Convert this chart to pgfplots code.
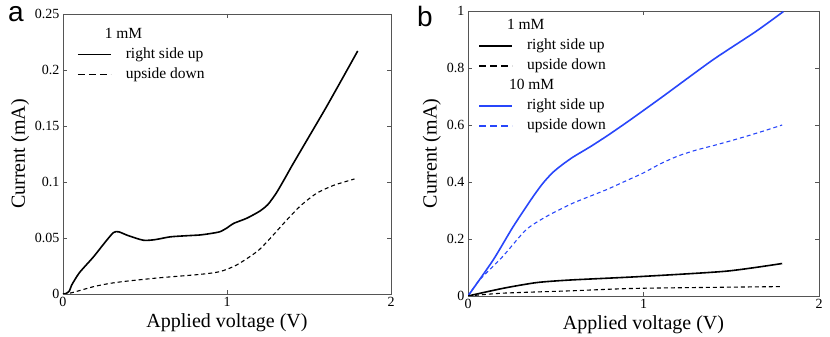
\documentclass[border=0pt]{standalone}
\usepackage{pgfplots}
\pgfplotsset{compat=1.18}
\usepackage{fontspec}
\setmainfont{Liberation Serif}
\newfontfamily\sansfont{Liberation Sans}
\definecolor{myblue}{RGB}{40,70,250}
\definecolor{axgray}{RGB}{85,85,85}

\pgfplotsset{
  panel/.style={
    scale only axis,
    axis line style={axgray, line width=0.9pt},
    tick style={axgray, line width=0.8pt},
    tick align=inside,
    major tick length=4pt,
    xmin=0, xmax=2, ymin=0,
    xtick={0,1,2},
    xticklabels={0,1,2},
    ticklabel style={font=\rmfamily\fontsize{14}{14}\selectfont},
    /pgf/number format/assume math mode=true,
    scaled y ticks=false,
    xlabel={Applied voltage (V)},
    ylabel={Current (mA)},
    label style={font=\fontsize{20}{20}\selectfont},
    xlabel style={at={(axis description cs:0.5,0)}, anchor=center, yshift=-29pt},
    legend style={draw=none, fill=none, anchor=north west,
      font=\fontsize{15.5}{15.5}\selectfont, row sep=0pt, column sep=12pt,
      nodes={text height=11.5pt, text depth=4.5pt, inner sep=2pt}},
    legend cell align=left,
    legend image code/.code={\draw[#1] (0pt,0pt) -- (33pt,0pt);},
  },
  solidk/.style={black, line width=1.6pt},
  dashk/.style={black, line width=1.1pt, dash pattern=on 4pt off 3pt},
  legdash/.style={line width=1.3pt, dash pattern=on 7pt off 4pt},
}

\begin{document}
\begin{tikzpicture}
\useasboundingbox (0pt,0pt) rectangle (830pt,337pt);

% panel a
\begin{axis}[panel,
  at={(63pt,43pt)}, anchor=south west,
  width=328pt, height=280pt,
  ymax=0.25,
  ytick={0,0.05,0.1,0.15,0.2,0.25},
  yticklabels={0,0.05,0.1,0.15,0.2,0.25},
  ylabel style={at={(axis description cs:-0.131,0.5)}, anchor=center},
  legend style={at={(axis description cs:0.033,0.97)}},
]
\addlegendimage{empty legend}
\addlegendentry{\hspace*{-21pt}1 mM}
\addlegendimage{black, line width=1.8pt}
\addlegendentry{right side up}
\addlegendimage{black, legdash}
\addlegendentry{upside down}

\addplot[solidk, smooth, tension=0.4, forget plot] coordinates {
 (0,0) (0.02,0.0005) (0.04,0.003) (0.053,0.008) (0.1,0.019) (0.185,0.033)
 (0.25,0.045) (0.307,0.0548) (0.34,0.0555) (0.4,0.052) (0.49,0.048)
 (0.56,0.0485) (0.652,0.051) (0.75,0.052) (0.835,0.0527) (0.9,0.054)
 (0.957,0.0556) (1.0,0.059) (1.04,0.063) (1.12,0.0676) (1.2,0.074)
 (1.25,0.080) (1.3,0.090) (1.35,0.1025) (1.4,0.1155) (1.5,0.1405)
 (1.6,0.1655) (1.7,0.1915) (1.797,0.217)
};
\addplot[dashk, smooth, tension=0.4, forget plot] coordinates {
 (0,0) (0.05,0.001) (0.185,0.0065) (0.287,0.0095) (0.39,0.0115) (0.59,0.0145)
 (0.835,0.0175) (0.957,0.020) (1.06,0.026) (1.2,0.040) (1.364,0.066)
 (1.45,0.079) (1.547,0.090) (1.65,0.097) (1.777,0.1027)
};
\end{axis}

% panel b
\begin{axis}[panel,
  at={(468pt,41pt)}, anchor=south west,
  width=351pt, height=285pt,
  ymax=1,
  ytick={0,0.2,0.4,0.6,0.8,1},
  yticklabels={0,0.2,0.4,0.6,0.8,1},
  ylabel style={at={(axis description cs:-0.103,0.5)}, anchor=center},
  legend style={at={(axis description cs:0.02,0.99)}},
]
\addlegendimage{empty legend}
\addlegendentry{\hspace*{-20pt}1 mM}
\addlegendimage{black, line width=1.8pt}
\addlegendentry{right side up}
\addlegendimage{black, legdash}
\addlegendentry{upside down}
\addlegendimage{empty legend}
\addlegendentry{\hspace*{-18pt}10 mM}
\addlegendimage{myblue, line width=1.5pt}
\addlegendentry{right side up}
\addlegendimage{myblue, legdash}
\addlegendentry{upside down}

\addplot[myblue, line width=1.6pt, smooth, tension=0.4, forget plot] coordinates {
 (0,0) (0.143,0.126) (0.257,0.243) (0.37,0.348) (0.43,0.398) (0.484,0.434)
 (0.54,0.462) (0.6,0.488) (0.7,0.525) (0.8,0.565) (0.92,0.616) (1.11,0.70)
 (1.394,0.828) (1.64,0.928) (1.797,0.998)
};
\addplot[myblue, line width=1.1pt, dash pattern=on 4pt off 3pt, smooth, tension=0.4, forget plot] coordinates {
 (0,0) (0.065,0.056) (0.197,0.138) (0.33,0.232) (0.444,0.278) (0.595,0.325)
 (0.785,0.372) (0.9,0.404) (1.0,0.432) (1.1,0.465) (1.2,0.492) (1.3,0.512)
 (1.4,0.528) (1.5,0.545) (1.6,0.563) (1.7,0.582) (1.79,0.60)
};
\addplot[solidk, smooth, tension=0.4, forget plot] coordinates {
 (0,0) (0.2,0.027) (0.39,0.047) (0.58,0.056) (0.975,0.068) (1.47,0.087) (1.79,0.114)
};
\addplot[dashk, smooth, tension=0.4, forget plot] coordinates {
 (0,0) (0.2,0.01) (0.58,0.018) (0.975,0.027) (1.79,0.033)
};
\end{axis}

\node[font=\sansfont\fontsize{28}{28}\selectfont, inner sep=0pt, anchor=base west] at (8pt,315pt) {a};
\node[font=\sansfont\fontsize{28}{28}\selectfont, inner sep=0pt, anchor=base west] at (417pt,310pt) {b};
\end{tikzpicture}
\end{document}
